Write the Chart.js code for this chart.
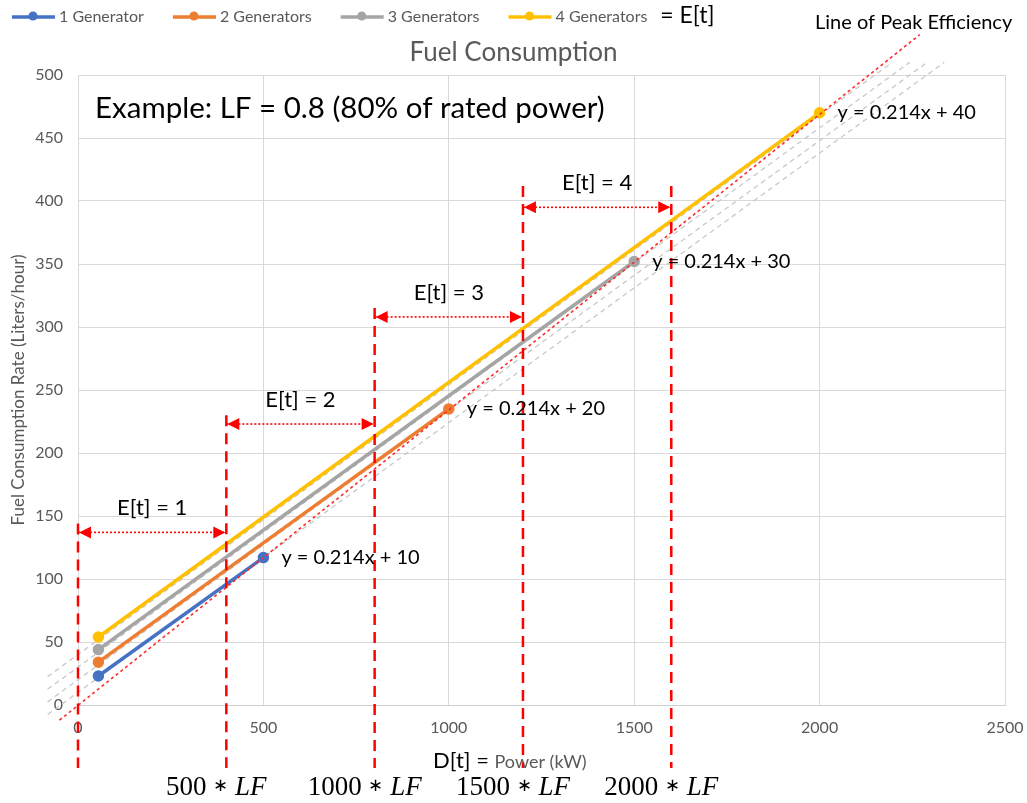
<!DOCTYPE html>
<html>
<head>
<meta charset="utf-8">
<script src="https://cdn.jsdelivr.net/npm/chart.js@4.4.1/dist/chart.umd.min.js"></script>
<style>
  html, body { margin: 0; padding: 0; background: #fff; }
</style>
</head>
<body>
<canvas id="fuelChart" width="1027" height="803"></canvas>
<script>
// generator curves (start / end point of each)
const genLabels = ["1 Generator", "2 Generators", "3 Generators", "4 Generators"];
const genColors = ["#4472c4", "#ed7d31", "#a5a5a5", "#ffc000"];
const gen1 = [{ x: 55, y: 23 }, { x: 500, y: 117 }];
const gen2 = [{ x: 55, y: 34 }, { x: 1000, y: 235 }];
const gen3 = [{ x: 55, y: 44 }, { x: 1500, y: 352 }];
const gen4 = [{ x: 55, y: 54 }, { x: 2000, y: 470 }];
const eqLabels = ["y = 0.214x + 10", "y = 0.214x + 20", "y = 0.214x + 30", "y = 0.214x + 40"];

// gray dashed trendlines
const trend10 = [{ x: -82, y: -7.5 }, { x: 2336, y: 510 }];
const trend20 = [{ x: -82, y: 2.5 }, { x: 2290, y: 510 }];
const trend30 = [{ x: -82, y: 12.5 }, { x: 2243, y: 510 }];
const trend40 = [{ x: -82, y: 22.5 }, { x: 2196, y: 510 }];

// red dotted line of peak efficiency
const peakLine = [{ x: -50, y: -12 }, { x: 2270, y: 532 }];

// vertical red dashed boundaries
const vlineX = [0, 400, 800, 1200, 1600];
const vlineTop = [144, 230, 315, 412, 412];
const vlineBottom = -50;

// E[t] arrows
const arrowFrom = [0, 400, 800, 1200];
const arrowTo = [400, 800, 1200, 1600];
const arrowY = [137, 223, 308, 395];
const arrowLabels = ["E[t] = 1", "E[t] = 2", "E[t] = 3", "E[t] = 4"];
const lfLabels = ["500", "1000", "1500", "2000"];

const xTicks = { min: 0, max: 2500, step: 500 };
const yTicks = { min: 0, max: 500, step: 50 };

const FONT = "Lato";
const GRAY_TXT = "#595959";

const datasets = [];
[gen1, gen2, gen3, gen4].forEach((d, i) => {
  datasets.push({
    label: genLabels[i],
    data: d,
    showLine: true,
    borderColor: genColors[i],
    backgroundColor: genColors[i],
    borderWidth: 3.5,
    pointRadius: 4,
    pointHoverRadius: 4,
    order: 3,
  });
});
datasets.push({
  label: "peak",
  data: peakLine,
  showLine: true,
  borderColor: "#ff2a2a",
  borderWidth: 1.6,
  borderDash: [3, 3],
  pointRadius: 0,
  clip: false,
  order: 1,
});
[trend10, trend20, trend30, trend40].forEach((d) => {
  datasets.push({
    label: "trend",
    data: d,
    showLine: true,
    borderColor: "#c8c8c8",
    borderWidth: 1.3,
    borderDash: [5, 4],
    pointRadius: 0,
    clip: false,
    order: 5,
  });
});
vlineX.forEach((vx, i) => {
  datasets.push({
    label: "vline",
    data: [{ x: vx, y: vlineTop[i] }, { x: vx, y: vlineBottom }],
    showLine: true,
    borderColor: "#ff0000",
    borderWidth: 2.5,
    borderDash: [11, 7],
    pointRadius: 0,
    clip: false,
    order: 0,
  });
});
arrowFrom.forEach((ax, i) => {
  datasets.push({
    label: "arrow",
    data: [{ x: ax, y: arrowY[i] }, { x: arrowTo[i], y: arrowY[i] }],
    showLine: true,
    borderColor: "#ff0000",
    borderWidth: 1.6,
    borderDash: [2, 2],
    pointRadius: 0,
    clip: false,
    order: 0,
    kind: "arrow",
  });
});

function head(ctx, tipX, tipY, dir) {
  ctx.beginPath();
  ctx.moveTo(tipX, tipY);
  ctx.lineTo(tipX - dir * 12, tipY - 6);
  ctx.lineTo(tipX - dir * 12, tipY + 6);
  ctx.closePath();
  ctx.fill();
}

const overlay = {
  id: "overlay",
  afterDatasetsDraw(chart) {
    const ctx = chart.ctx;
    ctx.save();
    ctx.fillStyle = "#ff0000";
    chart.data.datasets.forEach((ds, i) => {
      if (ds.kind !== "arrow") return;
      const pts = chart.getDatasetMeta(i).data;
      head(ctx, pts[0].x + 1, pts[0].y, -1);
      head(ctx, pts[1].x - 1, pts[1].y, 1);
    });
    ctx.restore();
  },
  afterDraw(chart) {
    const ctx = chart.ctx;
    const x = chart.scales.x;
    const y = chart.scales.y;
    ctx.save();
    ctx.textBaseline = "middle";

    // legend
    let lx = 12;
    const ly = 17;
    ctx.font = `16px ${FONT}`;
    genLabels.forEach((lab, i) => {
      ctx.strokeStyle = genColors[i];
      ctx.lineWidth = 3.5;
      ctx.beginPath();
      ctx.moveTo(lx, ly);
      ctx.lineTo(lx + 43, ly);
      ctx.stroke();
      ctx.fillStyle = genColors[i];
      ctx.beginPath();
      ctx.arc(lx + 21, ly - 1, 4.5, 0, Math.PI * 2);
      ctx.fill();
      ctx.fillStyle = GRAY_TXT;
      ctx.textAlign = "left";
      ctx.fillText(lab, lx + 47, ly);
      lx += 47 + ctx.measureText(lab).width + 29;
    });
    ctx.fillStyle = "#000";
    ctx.font = `23px ${FONT}`;
    ctx.fillText("= E[t]", lx - 16, ly - 1);

    ctx.font = `20px ${FONT}`;
    ctx.fillText("Line of Peak Efficiency", 815, 23);

    // title
    ctx.fillStyle = GRAY_TXT;
    ctx.font = `26px ${FONT}`;
    ctx.textAlign = "center";
    ctx.fillText("Fuel Consumption", chart.width / 2, 53);

    // example note
    ctx.fillStyle = "#000";
    ctx.font = `29.5px ${FONT}`;
    ctx.textAlign = "left";
    ctx.fillText("Example: LF = 0.8 (80% of rated power)", 95, 108);

    // equations next to curve ends
    ctx.font = `20px ${FONT}`;
    [gen1, gen2, gen3, gen4].forEach((d, i) => {
      const p = d[d.length - 1];
      ctx.fillText(eqLabels[i], x.getPixelForValue(p.x) + 18, y.getPixelForValue(p.y));
    });

    // E[t] labels above arrows
    ctx.font = `22px ${FONT}`;
    ctx.textAlign = "center";
    arrowLabels.forEach((lab, i) => {
      const cx = (x.getPixelForValue(arrowFrom[i]) + x.getPixelForValue(arrowTo[i])) / 2;
      ctx.fillText(lab, cx, y.getPixelForValue(arrowY[i]) - 24);
    });

    // x axis title: D[t] = Power (kW)
    ctx.textAlign = "left";
    ctx.textBaseline = "alphabetic";
    ctx.font = `22px ${FONT}`;
    const t1 = "D[t] = ";
    ctx.fillText(t1, 433, 768);
    const w1 = ctx.measureText(t1).width;
    ctx.fillStyle = GRAY_TXT;
    ctx.font = `18px ${FONT}`;
    ctx.fillText("Power (kW)", 433 + w1, 768);

    // n * LF labels under the vertical lines
    ctx.fillStyle = "#000";
    const serif = '"Liberation Serif"';
    lfLabels.forEach((lab, i) => {
      const cx = x.getPixelForValue(vlineX[i + 1]) - 10;
      ctx.font = `27px ${serif}`;
      const a = lab + " ";
      const wa = ctx.measureText(a).width;
      ctx.font = `18px ${serif}`;
      const wStar = ctx.measureText("\u2217").width;
      ctx.font = `italic 27px ${serif}`;
      const wb = ctx.measureText(" LF").width;
      let sx = cx - (wa + wStar + wb) / 2;
      ctx.font = `27px ${serif}`;
      ctx.fillText(a, sx, 795);
      sx += wa;
      ctx.font = `18px ${serif}`;
      ctx.fillText("\u2217", sx, 791);
      sx += wStar;
      ctx.font = `italic 27px ${serif}`;
      ctx.fillText(" LF", sx, 795);
    });
    ctx.restore();
  },
};

const ctx = document.getElementById("fuelChart").getContext("2d");
const chart = new Chart(ctx, {
  type: "scatter",
  data: { datasets },
  options: {
    responsive: false,
    animation: false,
    layout: { padding: { top: 75, right: 22, left: 0, bottom: 0 } },
    plugins: {
      legend: { display: false },
      tooltip: { enabled: false },
    },
    scales: {
      x: {
        type: "linear",
        min: xTicks.min,
        max: xTicks.max,
        ticks: {
          stepSize: xTicks.step,
          color: GRAY_TXT,
          font: { family: FONT, size: 16 },
          padding: 13,
          callback: (v) => String(v),
        },
        grid: { color: "#d9d9d9", drawTicks: false },
        border: { color: "#d0d0d0" },
        afterFit(scale) {
          scale.height = 98;
          scale.paddingLeft = 0;
          scale.paddingRight = 0;
        },
      },
      y: {
        type: "linear",
        min: yTicks.min,
        max: yTicks.max,
        ticks: {
          stepSize: yTicks.step,
          color: GRAY_TXT,
          font: { family: FONT, size: 16 },
          padding: 15,
          callback: (v) => String(v),
        },
        grid: { color: "#d9d9d9", drawTicks: false },
        border: { color: "#d9d9d9" },
        title: {
          display: true,
          text: "Fuel Consumption Rate (Liters/hour)",
          color: GRAY_TXT,
          font: { family: FONT, size: 17 },
          padding: { top: 8, bottom: 0 },
        },
        afterFit(scale) {
          scale.width = 78;
          scale.paddingTop = 0;
          scale.paddingBottom = 0;
        },
      },
    },
  },
  plugins: [overlay],
});
</script>
</body>
</html>
